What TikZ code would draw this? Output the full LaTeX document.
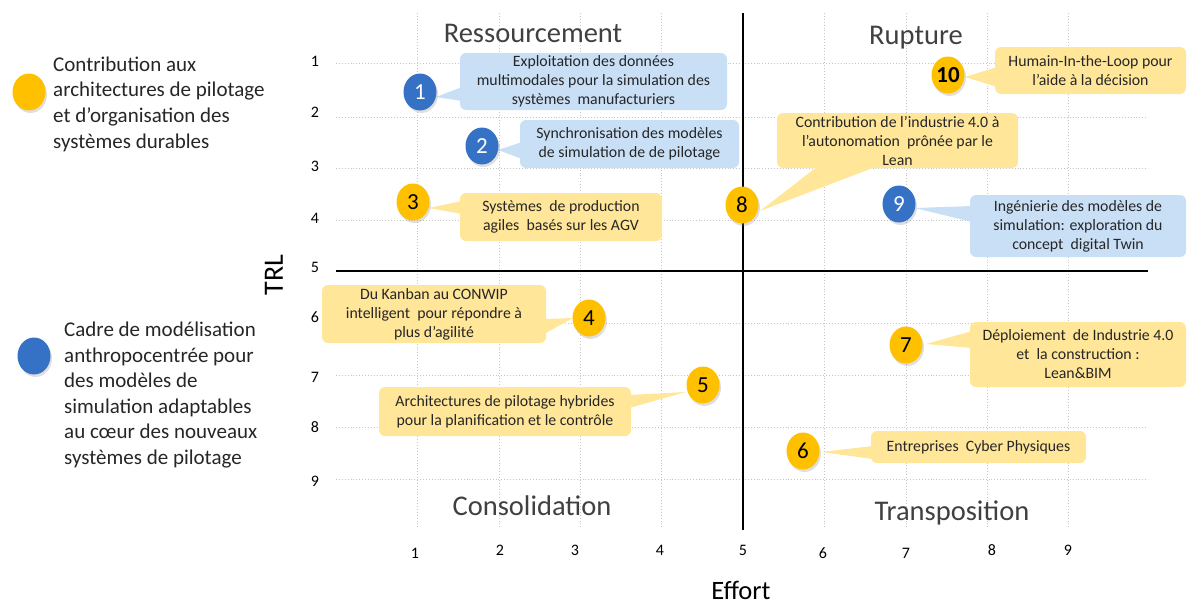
\documentclass[tikz,border=0pt]{standalone}
\usepackage{fontspec}
\setmainfont{Carlito}
\usetikzlibrary{shadows,shapes.geometric}
\definecolor{bluebox}{HTML}{C9DFF6}
\definecolor{yellowbox}{HTML}{FFE699}
\definecolor{bcirc}{HTML}{3571C5}
\definecolor{ycirc}{HTML}{FFC000}
\definecolor{textcol}{HTML}{262626}
\definecolor{titlecol}{HTML}{404040}
\begin{document}
\begin{tikzpicture}[x=1pt,y=-1pt,
  gridline/.style={draw=gray!45, dotted, line width=0.9pt},
  axisline/.style={line width=1.4pt, black},
  tick/.style={font=\fontsize{16}{19}\selectfont, text=black},
  quad/.style={font=\fontsize{28.5}{32}\selectfont, text=titlecol},
  callout/.style={rounded corners=6pt, align=center, font=\fontsize{15.8}{19}\selectfont, text=textcol, inner sep=1pt},
  ybox/.style={callout, fill=yellowbox},
  bbox/.style={callout, fill=bluebox},
  numc/.style={ellipse, minimum width=33pt, minimum height=37pt, inner sep=0pt,
     drop shadow={opacity=0.25, shadow xshift=1.5pt, shadow yshift=-2.5pt},
     font=\fontsize{23}{26}\selectfont},
  yc/.style={numc, fill=ycirc, text=black},
  bc/.style={numc, fill=bcirc, text=white},
  legend/.style={align=left, anchor=west, font=\fontsize{21}{25.6}\selectfont, text=textcol, inner sep=0pt},
]
\useasboundingbox (0,0) rectangle (1187,605);

% grid
\foreach \x in {417,499,580,661,824,906,987,1068}
  \draw[gridline] (\x,13) -- (\x,528);
\foreach \y in {63,117,168,220,323,375,427,479}
  \draw[gridline] (336,\y) -- (1148,\y);

% axes
\draw[axisline] (336,271) -- (1148,271);
\draw[axisline] (743,13) -- (743,530);

% tick labels
\foreach \y/\t in {61/1,112/2,166/3,218/4,267/5,317/6,377/7,427/8,481/9}
  \node[tick] (ty\t) at (315,\y) {\t};
\foreach \x/\yy/\t in {415/553/1,500/550/2,575/550/3,660/550/4,743/550/5,823/553/6,906/553/7,992/550/8,1068/550/9}
  \node[tick] (tx\t) at (\x,\yy) {\t};

\node[font=\fontsize{28}{32}\selectfont, rotate=90, text=black, inner sep=0pt] (trl) at (274,275) {TRL};
\node[font=\fontsize{26.5}{30}\selectfont, text=black, inner sep=0pt] (effort) at (741,590) {Effort};

% quadrant titles
\node[quad] (q1) at (533,33) {Ressourcement};
\node[quad] (q2) at (916,38) {Rupture};
\node[quad] (q3) at (532,506) {Consolidation};
\node[quad] (q4) at (952,513) {Transposition};

% callout pointers
\fill[bluebox] (462,87) -- (462,101) -- (436,97) -- cycle;
\fill[bluebox] (522,142) -- (522,159) -- (498,150) -- cycle;
\fill[yellowbox] (462,201) -- (462,214) -- (429,208) -- cycle;
\fill[yellowbox] (544,319) -- (544,334) -- (573,318) -- cycle;
\fill[yellowbox] (629,395) -- (629,408) -- (686,392) -- cycle;
\fill[yellowbox] (873,446) -- (873,459) -- (821,452) -- cycle;
\fill[yellowbox] (972,331) -- (972,348) -- (926,344) -- cycle;
\fill[yellowbox] (818,166) -- (878,166) -- (760,211) -- cycle;
\fill[bluebox] (972,206) -- (972,222) -- (915,208) -- cycle;
\fill[yellowbox] (997,67) -- (997,87) -- (965,77) -- cycle;

% callout boxes
\node[bbox, minimum width=267pt, minimum height=57pt] (b1) at (593.5,81.5)
  {Exploitation des données\\multimodales pour la simulation des\\systèmes\ \ manufacturiers};
\node[bbox, minimum width=219pt, minimum height=48pt] (b2) at (629.5,144)
  {Synchronisation des modèles\\de simulation de de pilotage};
\node[ybox, minimum width=202pt, minimum height=48pt] (b3) at (561,217)
  {Systèmes\ \ de production\\agiles\ \ basés sur les AGV};
\node[ybox, minimum width=224pt, minimum height=58pt] (b4) at (434,314)
  {Du Kanban au CONWIP\\intelligent\ \ pour répondre à\\plus d’agilité};
\node[ybox, minimum width=252pt, minimum height=49pt] (b5) at (505,411.5)
  {Architectures de pilotage hybrides\\pour la planification et le contrôle};
\node[ybox, minimum width=215pt, minimum height=32pt] (b6) at (978.5,447)
  {Entreprises\ \ Cyber Physiques};
\node[ybox, minimum width=216pt, minimum height=65pt] (b7) at (1078,354.5)
  {Déploiement\ \ de Industrie 4.0\\et\ \ la construction :\\Lean\&BIM};
\node[ybox, minimum width=241pt, minimum height=55pt] (b8) at (897.5,140.5)
  {Contribution de l’industrie 4.0 à\\l’autonomation\ \ prônée par le\\Lean};
\node[bbox, minimum width=216pt, minimum height=62pt] (b9) at (1078,226)
  {Ingénierie des modèles de\\simulation: exploration du\\concept\ \ digital Twin};
\node[ybox, minimum width=191pt, minimum height=47pt] (b10) at (1090.5,70.5)
  {Humain-In-the-Loop pour\\l’aide à la décision};

% numbered circles
\node[bc] (c1) at (420,92) {1};
\node[bc] (c2) at (482,146) {2};
\node[yc] (c3) at (413,202) {3};
\node[yc] (c4) at (589,318) {4};
\node[yc] (c5) at (703,385) {5};
\node[yc] (c6) at (803,451) {6};
\node[yc] (c7) at (906,345) {7};
\node[yc] (c8) at (742,205) {8};
\node[bc] (c9) at (899,204) {9};
\node[yc, font=\bfseries\fontsize{23}{26}\selectfont] (c10) at (948,75) {10};

% legend
\node[yc] (l1) at (29,92) {};
\node[legend] (lt1) at (53,104)
  {Contribution aux\\architectures de pilotage\\et d’organisation des\\systèmes durables};
\node[bc] (l2) at (34,356) {};
\node[legend] (lt2) at (64,395)
  {Cadre de modélisation\\anthropocentrée pour\\des modèles de\\simulation adaptables\\au cœur des nouveaux\\systèmes de pilotage};
\end{tikzpicture}
\end{document}
